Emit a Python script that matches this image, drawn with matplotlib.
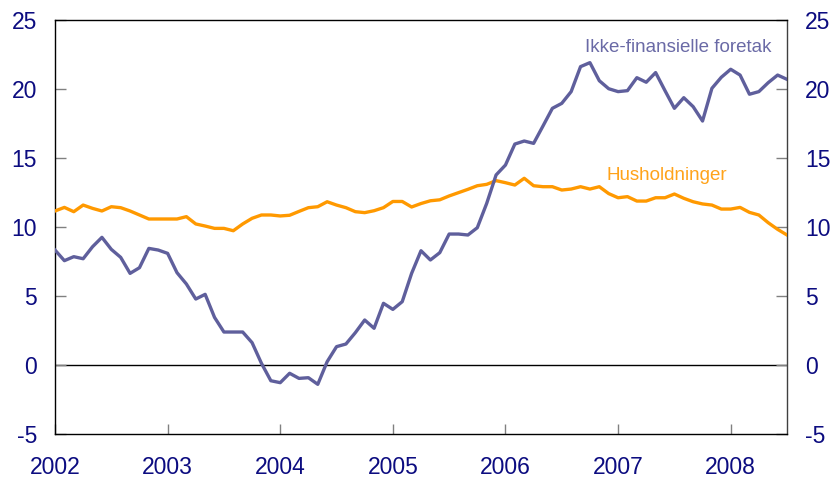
import matplotlib
matplotlib.use("Agg")
import matplotlib.pyplot as plt
import numpy as np

start_year = 2002
ikke_finansielle = [
    8.33, 7.56, 7.85, 7.70, 8.57, 9.25, 8.38, 7.80, 6.64, 7.05, 8.45, 8.33,
    8.09, 6.69, 5.87, 4.78, 5.12, 3.45, 2.39, 2.39, 2.39, 1.62, 0.12, -1.14,
    -1.28, -0.60, -0.97, -0.92, -1.40, 0.24, 1.33, 1.52, 2.34, 3.26, 2.66, 4.47,
    4.03, 4.59, 6.64, 8.28, 7.61, 8.14, 9.49, 9.49, 9.42, 9.95, 11.71, 13.77,
    14.49, 16.01, 16.23, 16.06, 17.32, 18.60, 18.96, 19.81, 21.62, 21.91, 20.60, 20.02,
    19.81, 19.88, 20.82, 20.49, 21.19, 19.88, 18.60, 19.37, 18.72, 17.68, 20.05, 20.85,
    21.43, 21.01, 19.62, 19.81, 20.46, 21.01, 20.70]
husholdninger = [
    11.16, 11.42, 11.11, 11.59, 11.35, 11.16, 11.47, 11.40, 11.16, 10.87, 10.58, 10.58,
    10.58, 10.58, 10.75, 10.22, 10.07, 9.90, 9.90, 9.73, 10.22, 10.63, 10.87, 10.87,
    10.80, 10.85, 11.13, 11.40, 11.47, 11.83, 11.59, 11.40, 11.11, 11.04, 11.18, 11.40,
    11.85, 11.85, 11.45, 11.70, 11.90, 11.97, 12.25, 12.49, 12.73, 12.99, 13.09, 13.36,
    13.21, 13.04, 13.53, 12.99, 12.92, 12.92, 12.68, 12.75, 12.92, 12.75, 12.92, 12.42,
    12.12, 12.20, 11.88, 11.88, 12.12, 12.12, 12.39, 12.08, 11.83, 11.67, 11.59, 11.30,
    11.30, 11.42, 11.06, 10.87, 10.31, 9.83, 9.42]
year_ticks = [2002, 2003, 2004, 2005, 2006, 2007, 2008]
y_ticks = [-5, 0, 5, 10, 15, 20, 25]

plt.rcParams['font.family'] = ['Liberation Sans', 'DejaVu Sans']

blue = '#5f5f9c'
orange = '#ff9900'
navy = '#0c0c80'

x = start_year + np.arange(len(ikke_finansielle)) / 12.0

W, H = 835, 483
fig = plt.figure(figsize=(W/100, H/100), dpi=100)
ax = fig.add_axes([55/W, 1-434/H, (787-55)/W, (434-20)/H])

ax.axhline(0, color='black', lw=1.0, zorder=1)
ax.plot(x, husholdninger, color=orange, lw=2.4, zorder=3)
ax.plot(x, ikke_finansielle, color=blue, lw=2.4, zorder=3)

ax.set_xlim(2002, 2008.5)
ax.set_ylim(-5, 25)
ax.set_xticks(year_ticks)
ax.set_xticklabels([str(y) for y in year_ticks])
ax.set_yticks(y_ticks)
ax.set_yticklabels([str(v) for v in y_ticks])

ax.tick_params(axis='x', direction='in', length=7, width=1, color='#808080',
               labelsize=16.5, labelcolor=navy, pad=16)
ax.tick_params(axis='y', direction='in', length=8, width=1, color='#808080',
               labelsize=16.5, labelcolor=navy, pad=13,
               left=True, right=True, labelleft=True, labelright=True)

for s in ax.spines.values():
    s.set_color('black')
    s.set_linewidth(1.0)
ax.spines['right'].set_color('#404040')

fig.text(678/W, 1-47/H, 'Ikke-finansielle foretak', fontsize=13.5,
         color='#6a6aa6', ha='center', va='center')
fig.text(667/W, 1-175/H, 'Husholdninger', fontsize=13.5,
         color='#ffa31a', ha='center', va='center')

fig.savefig('out.png', dpi=100)
